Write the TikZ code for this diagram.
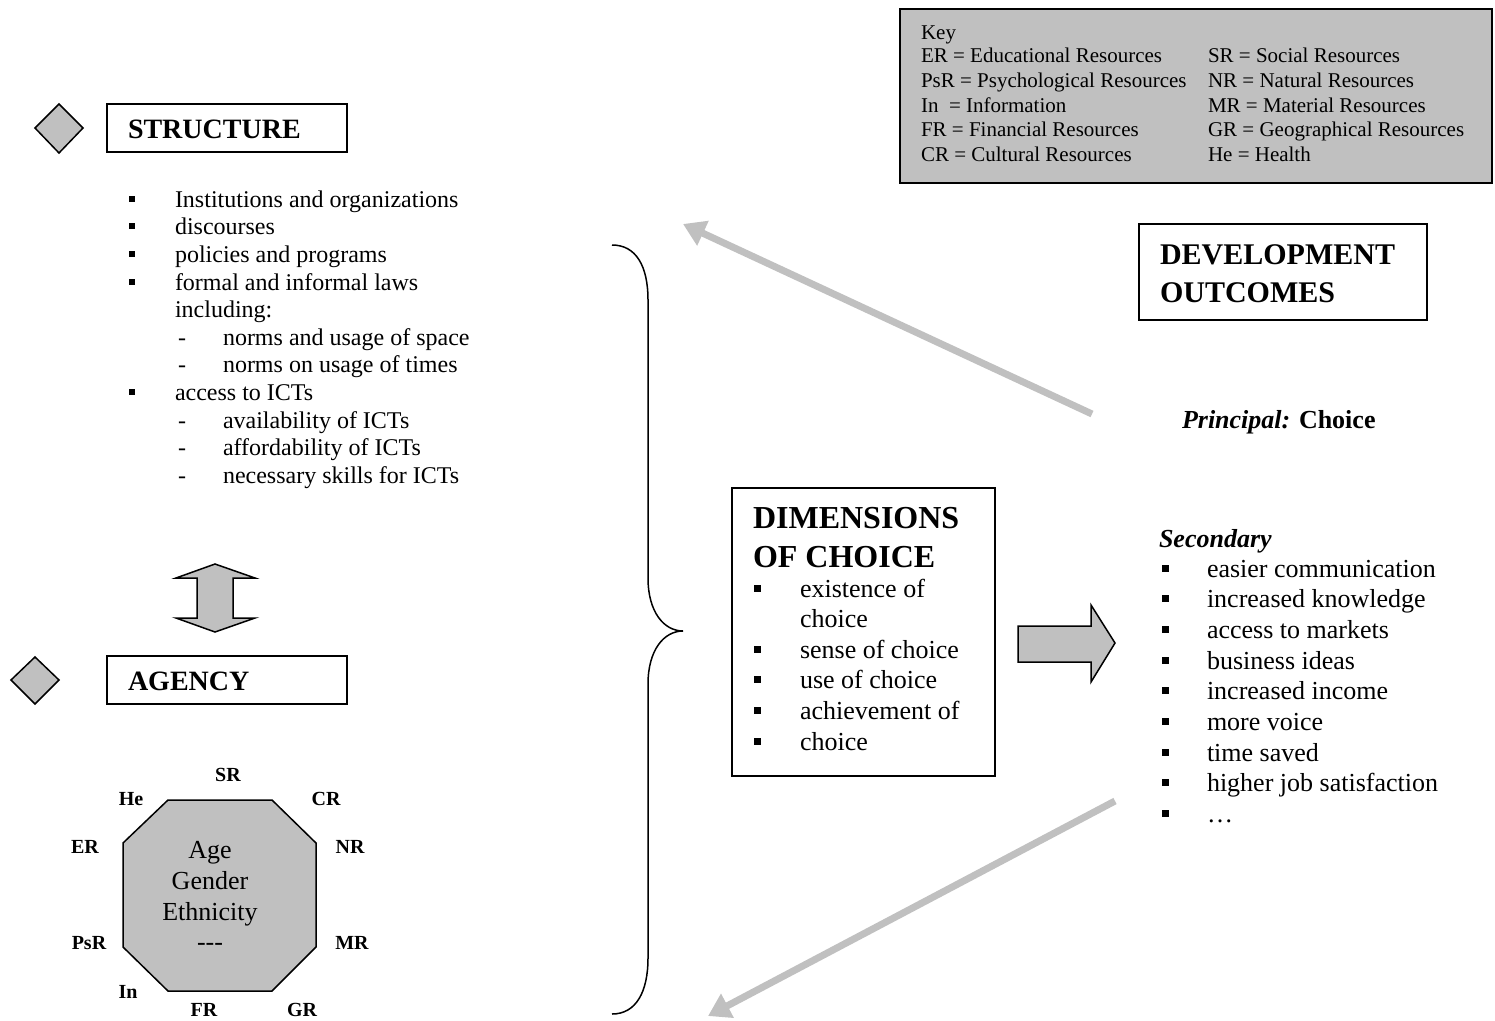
\documentclass[tikz,border=0pt]{standalone}
\usepackage{fontspec}
\setmainfont{Liberation Serif}
\usetikzlibrary{arrows.meta}
\definecolor{lgray}{HTML}{C0C0C0}
\begin{document}
\begin{tikzpicture}[x=1pt,y=-1pt,
  every node/.style={inner sep=0pt, outer sep=0pt},
  body/.style={anchor=base west, font=\fontsize{24}{28}\selectfont},
  keyt/.style={anchor=base west, font=\fontsize{21}{24}\selectfont},
  midt/.style={anchor=base west, font=\fontsize{26}{30}\selectfont},
  octt/.style={anchor=base, font=\fontsize{26}{30}\selectfont},
  lab/.style={anchor=center, font=\fontsize{20}{24}\selectfont\bfseries},
  hdr/.style={anchor=west, font=\fontsize{28}{32}\selectfont\bfseries},
  hdrbig/.style={anchor=west, font=\fontsize{32}{36}\selectfont\bfseries},
  hdrdev/.style={anchor=west, font=\fontsize{30}{34}\selectfont\bfseries},
  bul/.style={fill=black, minimum size=6.5pt, inner sep=0pt},
  boxline/.style={draw=black, line width=1.5pt},
  shapefill/.style={draw=black, line width=1.5pt, fill=lgray, line join=miter},
  grayarrow/.style={draw=lgray, line width=7pt, -{Triangle[length=22pt,width=26pt]}},
]
\useasboundingbox (0,0) rectangle (1495,1020);

% ---------- Key ----------
\node[draw=black, line width=1.8pt, fill=lgray, minimum width=592pt, minimum height=174pt, anchor=north west] (key) at (900,9) {};
\node[keyt] (k0) at (921,39) {Key};
\foreach \y/\a/\b [count=\i] in {62/{ER = Educational Resources}/{SR = Social Resources},
  87/{PsR = Psychological Resources}/{NR = Natural Resources},
  112/{In\ \ = Information}/{MR = Material Resources},
  136/{FR = Financial Resources}/{GR = Geographical Resources},
  161/{CR = Cultural Resources}/{He = Health}}{
  \node[keyt] (ka\i) at (921,\y) {\a};
  \node[keyt] (kb\i) at (1208,\y) {\b};
}

% ---------- Structure ----------
\draw[shapefill] (59,104) -- (83,128) -- (59,153) -- (35,128) -- cycle;
\node[boxline, minimum width=240pt, minimum height=48pt, anchor=north west] (strbox) at (107,104) {};
\node[hdr] (strtxt) at (128,129) {STRUCTURE};

\foreach \y/\t [count=\i] in {207/Institutions and organizations, 234/discourses, 262/policies and programs, 290/formal and informal laws, 400/access to ICTs}{
  \node[bul] (sb\i) at (132,\y-8) {};
  \node[body] (st\i) at (175,\y) {\t};
}
\node[body] (sinc) at (175,317) {including:};
\foreach \y/\t [count=\i] in {345/norms and usage of space, 372/norms on usage of times, 428/availability of ICTs, 455/affordability of ICTs, 483/necessary skills for ICTs}{
  \node[body] (sd\i) at (178,\y) {-};
  \node[body] (sdt\i) at (223,\y) {\t};
}

% ---------- double arrow ----------
\draw[shapefill] (215,564) -- (255,578) -- (233,578) -- (233,618) -- (255,618) -- (215,632)
  -- (176,618) -- (197,618) -- (197,578) -- (176,578) -- cycle;

% ---------- Agency ----------
\draw[shapefill] (35,657) -- (59,680) -- (35,704) -- (11,680) -- cycle;
\node[boxline, minimum width=240pt, minimum height=48pt, anchor=north west] (agbox) at (107,656) {};
\node[hdr] (agtxt) at (128,681) {AGENCY};

% ---------- Octagon ----------
\draw[shapefill] (168,800) -- (272,800) -- (316,843) -- (316,947) -- (272,991) -- (168,991) -- (123,947) -- (123,843) -- cycle;
\node[octt] (o1) at (210,858) {Age};
\node[octt] (o2) at (210,889) {Gender};
\node[octt] (o3) at (210,920) {Ethnicity};
\node[octt] (o4) at (210,950) {-{}-{}-};
\node[lab] (lSR) at (228,775) {SR};
\node[lab] (lHe) at (131,799) {He};
\node[lab] (lCR) at (326,799) {CR};
\node[lab] (lER) at (85,847) {ER};
\node[lab] (lNR) at (350,847) {NR};
\node[lab] (lPsR) at (89,943) {PsR};
\node[lab] (lMR) at (352,943) {MR};
\node[lab] (lIn) at (128,992) {In};
\node[lab] (lFR) at (204,1010) {FR};
\node[lab] (lGR) at (302,1010) {GR};

% ---------- Brace ----------
\draw[line width=1.5pt] (612,245) .. controls (636,245) and (648,266) .. (648,300)
  -- (648,578) .. controls (648,612) and (664,631) .. (683,631)
  .. controls (664,631) and (648,650) .. (648,684)
  -- (648,958) .. controls (648,992) and (636,1014) .. (612,1014);

% ---------- Dimensions ----------
\node[boxline, minimum width=263pt, minimum height=288pt, anchor=north west] (dimbox) at (732,488) {};
\node[hdrbig] (d1) at (753,518) {DIMENSIONS};
\node[hdrbig] (d2) at (753,557) {OF CHOICE};
\node[midt] (dt1) at (800,597) {existence of};
\node[midt] (dt2) at (800,627) {choice};
\foreach \y/\t [count=\i from 3] in {658/sense of choice, 688/use of choice, 719/achievement of, 750/choice}{
  \node[midt] (dt\i) at (800,\y) {\t};
}
\foreach \y [count=\i] in {597,658,688,719,750}{
  \node[bul, minimum size=7pt] (db\i) at (757,\y-9) {};
}

% ---------- right arrow ----------
\draw[shapefill] (1018,626) -- (1091,626) -- (1091,605) -- (1115,643) -- (1091,682) -- (1091,662) -- (1018,662) -- cycle;

% ---------- Development outcomes ----------
\node[boxline, minimum width=288pt, minimum height=96pt, anchor=north west] (devbox) at (1139,224) {};
\node[hdrdev] (dv1) at (1160,255) {DEVELOPMENT};
\node[hdrdev] (dv2) at (1160,293) {OUTCOMES};
\node[midt] (prin) at (1182,428) {\textbf{\textit{Principal:}} \textbf{Choice}};
\node[midt] (sec) at (1159,547) {\textbf{\textit{Secondary}}};
\foreach \y/\t [count=\i] in {577/easier communication, 607/increased knowledge, 638/access to markets, 669/business ideas, 699/increased income, 730/more voice, 761/time saved, 791/higher job satisfaction, 822/\ldots}{
  \node[bul, minimum size=7pt] (ob\i) at (1165,\y-9) {};
  \node[midt] (ot\i) at (1207,\y) {\t};
}

% ---------- gray arrows ----------
\coordinate (ta1) at (1092,414);
\coordinate (th1) at (683,224);
\coordinate (ta2) at (1115,801);
\coordinate (th2) at (708,1016);
\draw[grayarrow] (ta1) -- (th1);
\draw[grayarrow] (ta2) -- (th2);
\end{tikzpicture}
\end{document}
